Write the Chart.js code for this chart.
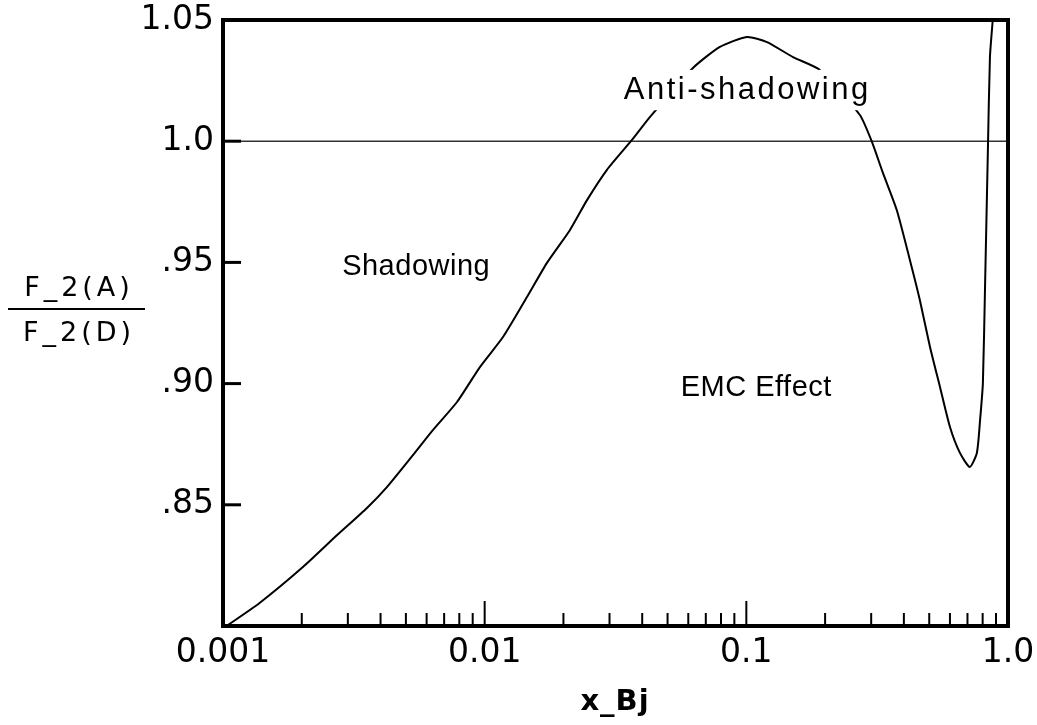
<!DOCTYPE html>
<html>
<head>
<meta charset="utf-8">
<script src="https://cdn.jsdelivr.net/npm/chart.js@4.4.1/dist/chart.umd.min.js"></script>
<style>
  html, body { margin: 0; padding: 0; background: #fff; }
  #wrap { width: 1037px; height: 725px; position: relative; }
</style>
</head>
<body>
<div id="wrap"><canvas id="c"></canvas></div>
<script>
// ── Data ──────────────────────────────────────────────────────────────────
const xBj = [0.001, 0.00138, 0.00202, 0.00273, 0.00355, 0.00423, 0.00532, 0.00635, 0.00784,
  0.00959, 0.01175, 0.01451, 0.0173, 0.02119, 0.02461, 0.02929, 0.03655, 0.04286,
  0.06252, 0.07925, 0.1004, 0.12, 0.1507, 0.1909, 0.2716, 0.302, 0.3327, 0.3757,
  0.4217, 0.4603, 0.5034, 0.5496, 0.6001, 0.6551, 0.7145, 0.7603, 0.7822, 0.8017,
  0.817, 0.8375, 0.8531, 0.8743];
const ratio = [0.799, 0.8095, 0.8243, 0.8375, 0.8487, 0.8573, 0.8705, 0.8809, 0.8924,
  0.9068, 0.9192, 0.9357, 0.9498, 0.9634, 0.9757, 0.9881, 1.0005, 1.010,
  1.0302, 1.0389, 1.043, 1.0409, 1.0347, 1.0294, 1.0108, 0.9997, 0.9869, 0.9716,
  0.951, 0.9345, 0.9151, 0.8986, 0.8821, 0.8714, 0.8656, 0.8714, 0.885, 0.9002,
  0.9399, 0.9955, 1.0347, 1.05];

const unityX = [0.001, 1.0];
const unityY = [1.0, 1.0];

const xTickValues = [0.001, 0.01, 0.1, 1.0];
const xTickLabels = ["0.001", "0.01", "0.1", "1.0"];
const xMinorSteps = [2, 3, 4, 5, 6, 7, 8, 9];
const yTickValues = [0.85, 0.90, 0.95, 1.0, 1.05];
const yTickLabels = [".85", ".90", ".95", "1.0", "1.05"];

const regionNames = ["Shadowing", "Anti-shadowing", "EMC Effect"];

const FONT = "'DejaVu Sans', Verdana, sans-serif";
const LABEL_FONT = "'Liberation Sans', Arial, sans-serif";

function sameLog(a, b) { return Math.abs(Math.log10(a) - Math.log10(b)) < 1e-6; }

// ── Decorations: frame, inward ticks, labels, axis titles ─────────────────
const decor = {
  id: "decor",
  afterDatasetsDraw(chart) {
    const { ctx, scales: { x, y } } = chart;
    // region labels sit on white boxes like the original
    const spots = [
      { x: 0.00546, y: 0.948, size: 29, sp: 0.5 },
      { x: 0.0997, y: 1.0211, size: 31, sp: 2.5 },
      { x: 0.1089, y: 0.8982, size: 29, sp: 0.5 },
    ];
    ctx.save();
    ctx.textAlign = "center";
    ctx.textBaseline = "middle";
    regionNames.forEach((name, i) => {
      const s = spots[i];
      ctx.font = s.size + "px " + LABEL_FONT;
      if ("letterSpacing" in ctx) ctx.letterSpacing = s.sp + "px";
      const px = x.getPixelForValue(s.x), py = y.getPixelForValue(s.y);
      const w = ctx.measureText(name).width;
      ctx.fillStyle = "#fff";
      ctx.fillRect(px - w / 2 - 4, py - s.size * 0.65, w + 8, s.size * 1.3);
      ctx.fillStyle = "#000";
      ctx.fillText(name, px + s.sp / 2, py);
    });
    ctx.restore();
  },
  afterDraw(chart) {
    const { ctx, chartArea: a, scales: { x, y } } = chart;
    ctx.save();
    ctx.strokeStyle = "#000";
    // inward x ticks
    ctx.lineWidth = 2;
    x.ticks.forEach(t => {
      const px = x.getPixelForValue(t.value);
      const major = xTickValues.some(v => sameLog(v, t.value));
      ctx.beginPath();
      ctx.moveTo(px, a.bottom);
      ctx.lineTo(px, a.bottom - (major ? 25 : 13));
      ctx.stroke();
    });
    // inward y ticks
    ctx.lineWidth = 3;
    yTickValues.forEach(v => {
      const py = y.getPixelForValue(v);
      ctx.beginPath();
      ctx.moveTo(a.left, py);
      ctx.lineTo(a.left + 18, py);
      ctx.stroke();
    });
    // frame
    ctx.lineWidth = 4;
    ctx.strokeRect(a.left, a.top, a.right - a.left, a.bottom - a.top);

    // y title as a fraction
    ctx.fillStyle = "#000";
    ctx.textAlign = "center";
    ctx.textBaseline = "middle";
    ctx.font = "27px " + FONT;
    if ("letterSpacing" in ctx) ctx.letterSpacing = "4px";
    ctx.fillText("F_2(A)", 79, 289);
    ctx.fillText("F_2(D)", 79, 334);
    ctx.lineWidth = 2;
    ctx.beginPath();
    ctx.moveTo(8, 309);
    ctx.lineTo(145, 309);
    ctx.stroke();
    // x title
    if ("letterSpacing" in ctx) ctx.letterSpacing = "1px";
    ctx.font = "bold 29px " + FONT;
    ctx.fillText("x_Bj", 615, 702);
    ctx.restore();
  }
};

new Chart(document.getElementById("c"), {
  type: "line",
  data: {
    datasets: [
      {
        label: "F2(A)/F2(D)",
        data: xBj.map((v, i) => ({ x: v, y: ratio[i] })),
        borderColor: "#000",
        borderWidth: 2,
        pointRadius: 0,
        tension: 0.2,
        fill: false,
      },
      {
        label: "unity",
        data: unityX.map((v, i) => ({ x: v, y: unityY[i] })),
        borderColor: "#333",
        borderWidth: 1.5,
        pointRadius: 0,
        fill: false,
      }
    ]
  },
  options: {
    animation: false,
    responsive: true,
    maintainAspectRatio: false,
    layout: { padding: { left: 0, top: 20, right: 29, bottom: 0 } },
    scales: {
      x: {
        type: "logarithmic",
        min: 0.001, max: 1.0,
        grid: { display: false },
        border: { display: false },
        afterBuildTicks: scale => {
          const ticks = [];
          xTickValues.forEach((d, i) => {
            ticks.push({ value: d });
            if (i < xTickValues.length - 1) xMinorSteps.forEach(m => ticks.push({ value: d * m }));
          });
          scale.ticks = ticks;
        },
        afterFit: scale => { scale.height = 99; scale.paddingLeft = 0; scale.paddingRight = 0; },
        ticks: {
          autoSkip: false, maxRotation: 0, padding: 0,
          color: "#000", font: { family: FONT, size: 33 },
          callback: v => {
            const i = xTickValues.findIndex(t => sameLog(t, v));
            return i >= 0 ? xTickLabels[i] : "";
          }
        }
      },
      y: {
        min: 0.80, max: 1.05,
        grid: { display: false },
        border: { display: false },
        afterBuildTicks: scale => { scale.ticks = yTickValues.map(v => ({ value: v })); },
        afterFit: scale => { scale.width = 223; scale.paddingTop = 0; scale.paddingBottom = 0; },
        ticks: {
          padding: 1,
          color: "#000", font: { family: FONT, size: 33 },
          callback: v => {
            const i = yTickValues.findIndex(t => Math.abs(t - v) < 1e-9);
            return i >= 0 ? yTickLabels[i] : "";
          }
        }
      }
    },
    plugins: { legend: { display: false }, tooltip: { enabled: false } }
  },
  plugins: [decor]
});
</script>
</body>
</html>
